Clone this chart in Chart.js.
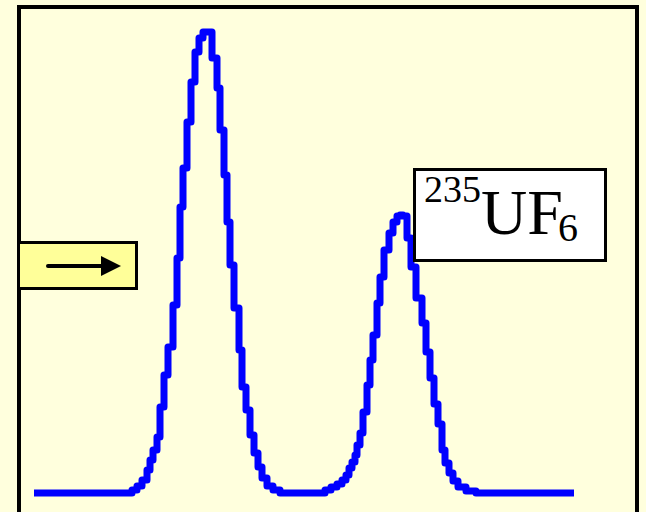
<!DOCTYPE html>
<html>
<head>
  <meta charset="UTF-8">
  <title>UF6 peaks</title>
  <script src="https://cdn.jsdelivr.net/npm/chart.js"></script>
  <style>
    body {
      margin: 0;
      background: #ffffdd;
      overflow: hidden;
    }
    #wrap {
      position: relative;
      width: 646px;
      height: 512px;
    }
    #frame {
      position: absolute;
      left: 17px;
      top: 5px;
      width: 614px;
      height: 560px;
      border: 4px solid #000;
      pointer-events: none;
    }
    #label {
      position: absolute;
      left: 413px;
      top: 168px;
      width: 188px;
      height: 88px;
      background: #fff;
      border: 3.5px solid #000;
    }
    .t {
      position: absolute;
      font-family: 'Liberation Serif', 'Times New Roman', serif;
      line-height: 1;
      color: #000;
      white-space: nowrap;
    }
    #arrowBox {
      position: absolute;
      left: 17px;
      top: 241px;
      width: 115px;
      height: 43px;
      background: #ffff99;
      border: 3px solid #000;
    }
  </style>
</head>
<body>
<div id="wrap">
  <canvas id="peaks"></canvas>
  <div id="frame"></div>
  <div id="arrowBox"></div>
  <svg style="position:absolute;left:0;top:0" width="646" height="512">
    <line x1="48" y1="266" x2="104" y2="266" stroke="#000" stroke-width="4" stroke-linecap="round"/>
    <polygon points="101,256 121,266 101,276" fill="#000"/>
  </svg>
  <div id="label"></div>
  <span class="t" style="left:424px;top:170px;font-size:38px">235</span>
  <span class="t" style="left:481px;top:181px;font-size:64px">UF</span>
  <span class="t" style="left:558px;top:208px;font-size:40px">6</span>
</div>

<script>
  // detector position and signal height
  const channel = [34, 128, 132, 137, 142, 147, 150, 153, 157, 160, 164, 168, 173, 177, 180, 183, 187, 191, 195, 199, 203, 207,
    212, 217, 220, 224, 227, 230, 234, 239, 242, 246, 250, 254, 258, 262, 267, 273, 280,
    325, 331, 337, 342, 346, 349, 352, 355, 357, 360, 363, 367, 370, 373, 377, 380, 384, 389, 393, 397, 400,
    403, 407, 411, 416, 422, 426, 430, 434, 438, 442, 445, 449, 453, 458, 466, 476, 574];
  const signal = [0, 0, 3, 7, 13, 23, 33, 43, 56, 86, 118, 146, 188, 235, 286, 325, 371, 411, 441, 455, 461, 461,
    435, 405, 363, 318, 271, 228, 185, 143, 106, 83, 58, 40, 26, 15, 7, 3, 0,
    3, 6, 9, 13, 18, 25, 31, 38, 48, 60, 81, 108, 133, 158, 190, 216, 243, 260, 271, 277, 278,
    277, 255, 226, 195, 170, 141, 115, 89, 69, 43, 30, 20, 12, 6, 2, 0, 0];

  const points = channel.map((x, i) => ({ x: x, y: signal[i] }));

  new Chart(document.getElementById('peaks'), {
    type: 'line',
    data: {
      datasets: [{
        data: points,
        borderColor: '#0000ff',
        borderWidth: 7,
        borderJoinStyle: 'round',
        borderCapStyle: 'butt',
        stepped: true,
        pointRadius: 0,
        fill: false
      }]
    },
    options: {
      responsive: true,
      maintainAspectRatio: false,
      animation: false,
      layout: { padding: 0 },
      plugins: { legend: { display: false }, tooltip: { enabled: false } },
      scales: {
        x: { type: 'linear', min: 0, max: 646, display: false },
        y: { min: -19, max: 493, display: false }
      }
    }
  });
</script>
</body>
</html>
